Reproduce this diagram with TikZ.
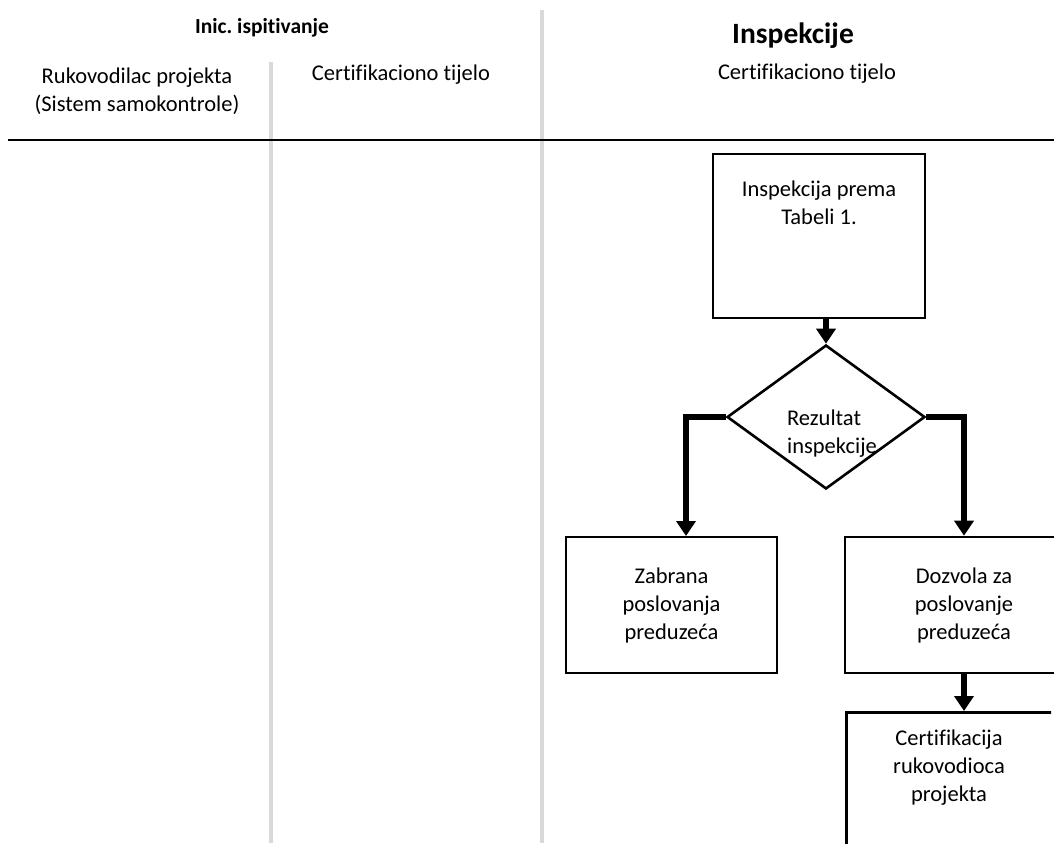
\documentclass[tikz,border=0pt]{standalone}
\usepackage{fontspec}
\setmainfont{Carlito}[RawFeature={-liga;-clig;-dlig}]
\usetikzlibrary{shapes.geometric,arrows.meta}
\definecolor{lanegray}{HTML}{D9D9D9}
\frenchspacing
\tikzset{
  txt/.style={font=\fontsize{22.5}{28}\selectfont, align=center, inner sep=0pt},
  boxnode/.style={draw=black, line width=2.6pt, inner sep=0pt},
  conn/.style={line width=5.5pt, line join=miter, -{Triangle[width=19pt,length=15pt]}},
  lane/.style={draw=lanegray, line width=4pt}
}
\begin{document}
\begin{tikzpicture}[x=1pt,y=-1pt]
\useasboundingbox (0,0) rectangle (1054,843);
\clip (0,0) rectangle (1054,843);
% lane separators
\coordinate (l1t) at (271,62);
\coordinate (l1b) at (271,843);
\coordinate (l2t) at (542,10);
\coordinate (l2b) at (542,843);
\draw[lane] (l1t) -- (l1b);
\draw[lane] (l2t) -- (l2b);
\coordinate (hl) at (8,140);
\coordinate (hr) at (1054,140);
\draw[line width=2.6pt] (hl) -- (hr);
% headers
\node[txt, font=\bfseries\fontsize{21.5}{25}\selectfont] (h1) at (262,28) {Inic.\ ispitivanje};
\node[txt] (h2) at (137,91) {Rukovodilac projekta\\(Sistem samokontrole)};
\node[txt] (h3) at (401,75) {Certifikaciono tijelo};
\node[txt, font=\bfseries\fontsize{29.5}{34}\selectfont] (h4) at (793,36) {Inspekcije};
\node[txt] (h5) at (807,74) {Certifikaciono tijelo};
% flow
\node[boxnode, minimum width=212, minimum height=164] (b1) at (819,236) {};
\node[txt] (b1t) at (819,203) {Inspekcija prema\\Tabeli 1.};
\node[draw=black, line width=2.6pt, diamond, minimum width=198, minimum height=144, inner sep=0pt] (dia) at (826,417) {};
\node[txt, align=left] (diat) at (832,434) {Rezultat\\inspekcije};
\node[boxnode, minimum width=211, minimum height=136, txt] (zab) at (671.5,605) {Zabrana\\poslovanja\\preduzeća};
\node[boxnode, minimum width=238, minimum height=136, txt] (doz) at (964,605) {Dozvola za\\poslovanje\\preduzeća};
\begin{scope}
\clip (0,0) rectangle (1051,843);
\node[boxnode, minimum width=208, minimum height=200, txt, anchor=north west] (cert) at (845,711) {};
\end{scope}
\node[txt] (certt) at (949,768) {Certifikacija\\rukovodioca\\projekta};
\coordinate (zabin) at (686,536);
\draw[conn] (b1.south -| dia.north) -- (dia.north);
\draw[conn] (dia.west) -| (zabin);
\draw[conn] (dia.east) -| (doz.north);
\draw[conn] (doz.south) -- (doz.south |- cert.north);
\end{tikzpicture}
\end{document}
